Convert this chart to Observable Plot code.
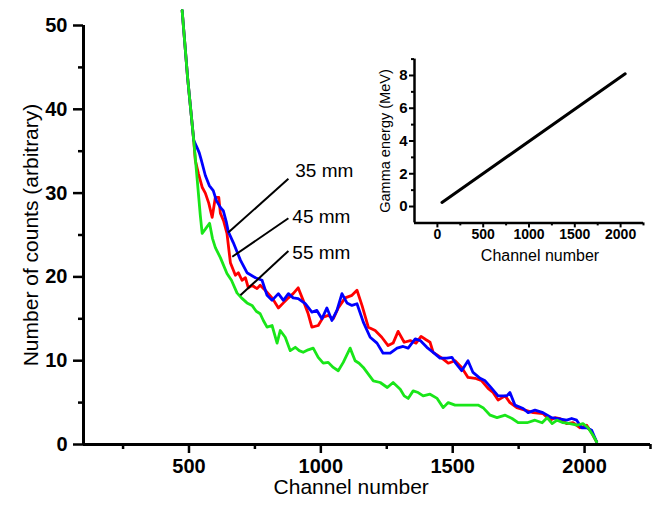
<!DOCTYPE html>
<html><head><meta charset="utf-8">
<script src="https://cdn.jsdelivr.net/npm/d3@7"></script>
<script src="https://cdn.jsdelivr.net/npm/@observablehq/plot@0.6"></script>
<style>
html,body{margin:0;padding:0;background:#fff;}
#wrap{position:relative;width:657px;height:506px;overflow:hidden;}
#inset{position:absolute;left:370px;top:40px;}
svg{display:block;}
</style></head><body><div id="wrap"><div id="main"></div><div id="inset"></div></div>
<script>
// ---- Data ----
// 35 mm (blue)
const ch35 = [474,495,518,531,539,547,562,577,592,604,619,630,642,649,668,695,720,752,777,796,815,839,858,877,895,914,941,966,985,1004,1023,1042,1061,1080,1099,1118,1137,1161,1187,1213,1236,1263,1289,1312,1331,1358,1377,1402,1426,1452,1478,1497,1509,1534,1558,1577,1604,1623,1648,1672,1705,1717,1736,1767,1786,1812,1842,1875,1899,1932,1951,1970,1989,2008,2027,2046];
const counts35 = [51.8,43.7,36.3,35.4,34.8,33.9,32.1,30.9,30.3,29.1,28.3,27.9,26.5,25.4,24.1,22.0,20.5,19.9,19.6,17.8,17.2,18.0,17.2,18.0,17.5,17.4,16.8,15.8,16.0,15.0,16.3,14.8,16.0,18.0,16.9,16.6,16.8,14.6,12.8,12.1,10.9,10.9,11.5,11.7,11.5,12.6,12.4,11.6,11.0,10.3,10.3,10.4,9.8,8.8,10.0,8.6,7.9,7.6,6.7,5.8,5.8,6.2,4.7,4.3,3.8,4.1,3.8,3.2,3.1,2.9,3.1,2.9,2.0,2.0,1.7,0.3];
// 45 mm (red)
const ch45 = [474,495,518,524,536,550,562,575,588,600,613,619,631,644,657,676,687,701,714,725,739,758,770,789,815,839,858,877,895,914,933,952,966,990,1009,1028,1047,1066,1092,1118,1137,1156,1180,1206,1231,1255,1274,1293,1316,1339,1361,1380,1399,1414,1426,1459,1483,1509,1534,1558,1585,1610,1634,1653,1672,1699,1717,1743,1774,1805,1842,1869,1888,1907,1932,1956,1983,2008,2027,2046];
const counts45 = [51.8,43.7,36.3,33.9,32.3,30.7,30.0,28.8,27.1,29.5,29.5,27.6,26.7,25.2,21.7,20.2,20.5,19.6,19.9,18.7,19.0,18.6,19.0,18.4,17.5,16.3,16.9,17.5,18.0,18.7,17.2,15.6,14.0,14.2,15.2,15.4,15.0,16.3,17.5,17.8,18.4,16.6,14.0,13.6,12.8,11.8,12.1,13.5,12.2,12.4,12.1,12.9,12.5,12.2,11.0,10.3,9.7,10.0,9.2,8.0,7.9,7.6,6.7,6.2,5.3,5.8,5.0,4.4,4.1,3.8,3.7,2.9,3.2,3.1,2.5,2.6,2.0,2.3,1.4,0.3];
// 55 mm (green)
const ch55 = [474,495,518,532,543,550,562,578,589,600,619,644,661,682,699,720,739,755,770,782,796,815,834,846,865,884,903,918,933,952,971,990,1009,1028,1047,1066,1085,1111,1130,1145,1161,1180,1199,1225,1252,1274,1301,1316,1331,1350,1369,1388,1414,1441,1464,1483,1509,1536,1566,1596,1615,1642,1668,1699,1725,1748,1782,1812,1839,1858,1877,1896,1918,1945,1971,1994,2013,2032,2046];
const counts55 = [51.8,43.7,36.3,31.3,27.3,25.2,25.7,26.4,24.6,23.5,22.3,20.4,19.6,18.1,17.5,16.9,16.6,15.9,15.6,14.8,14.0,14.2,12.1,13.6,12.8,11.2,11.6,11.2,11.0,11.3,11.5,10.4,9.7,9.8,9.2,8.8,9.8,11.5,10.0,9.7,9.2,8.4,7.6,7.4,6.8,7.4,6.6,5.8,5.5,6.4,6.2,5.8,6.0,5.5,4.4,5.0,4.7,4.7,4.7,4.7,4.4,3.5,3.2,3.5,3.1,2.6,2.6,2.9,2.6,3.2,2.5,2.9,2.6,2.5,2.3,2.5,2.0,1.1,0.3];

// Leader labels
const leaderLabels = ["35 mm", "45 mm", "55 mm"];
const leaderFromCh = [649, 664, 695];
const leaderFromN = [25.3, 22.4, 17.8];
const leaderToCh = [877, 877, 877];
const leaderToN = [31.7, 27.0, 23.1];
const labelCh = [903, 892, 892];
const labelN = [32.6, 27.1, 22.9];

// Axis ticks
const xMajor = [500, 1000, 1500, 2000];
const xMinor = [250, 750, 1250, 1750, 2250];
const yMajor = [0, 10, 20, 30, 40, 50];
const yMinor = [5, 15, 25, 35, 45];

// Inset: calibration line
const insetChannel = [50, 2050];
const insetEnergy = [0.25, 8.1];
const insetXMajor = [0, 500, 1000, 1500, 2000];
const insetXMinor = [250, 750, 1250, 1750, 2250];
const insetYMajor = [0, 2, 4, 6, 8];
const insetYMinor = [1, 3, 5, 7, 9];

// ---- Build ----
const FONT = "'Liberation Sans', Arial, Helvetica, sans-serif";
const toRows = (xs, ys) => xs.map((x, i) => ({ch: x, n: ys[i]}));
const d35 = toRows(ch35, counts35);
const d45 = toRows(ch45, counts45);
const d55 = toRows(ch55, counts55);
const leaders = leaderLabels.map((label, i) => ({
  label, x1: leaderFromCh[i], y1: leaderFromN[i], x2: leaderToCh[i], y2: leaderToN[i],
  tx: labelCh[i], ty: labelN[i]
}));

const main = Plot.plot({
  width: 657, height: 506,
  marginLeft: 83, marginRight: 7, marginTop: 25, marginBottom: 62,
  x: {domain: [100, 2250]},
  y: {domain: [0, 50]},
  style: {fontFamily: FONT, background: "white", color: "black"},
  marks: [
    Plot.line(d45, {x: "ch", y: "n", stroke: "#ff0000", strokeWidth: 2.8}),
    Plot.line(d35, {x: "ch", y: "n", stroke: "#0000ff", strokeWidth: 2.8}),
    Plot.line(d55, {x: "ch", y: "n", stroke: "#19e619", strokeWidth: 2.8}),
    Plot.link(leaders, {x1: "x1", y1: "y1", x2: "x2", y2: "y2", stroke: "black", strokeWidth: 2}),
    Plot.text(leaders, {x: "tx", y: "ty", text: "label", textAnchor: "start", fontSize: 19, fill: "black"}),
    Plot.ruleY([0], {strokeWidth: 3, stroke: "black"}),
    Plot.ruleX([100], {strokeWidth: 3, stroke: "black"}),
    Plot.axisX({ticks: xMajor, tickSize: 9, tickPadding: 5, tickFormat: "d", fontSize: 20, fontWeight: "bold", strokeWidth: 2.5, label: null}),
    Plot.axisX({ticks: xMinor, tickSize: 5, tickFormat: () => "", strokeWidth: 2.5, label: null}),
    Plot.axisY({ticks: yMajor, tickSize: 10, tickPadding: 6, tickFormat: "d", fontSize: 20, fontWeight: "bold", strokeWidth: 2.5, label: null}),
    Plot.axisY({ticks: yMinor, tickSize: 5, tickFormat: () => "", strokeWidth: 2.5, label: null}),
    Plot.text(["Channel number"], {x: 1115, frameAnchor: "bottom", dy: 49, fontSize: 21, fill: "black"}),
    Plot.text(["Number of counts (arbitrary)"], {frameAnchor: "left", textAnchor: "middle", dx: -52, rotate: -90, fontSize: 21, fill: "black"})
  ]
});
document.getElementById("main").appendChild(main);

const inset = Plot.plot({
  width: 280, height: 240,
  marginLeft: 44, marginRight: 7, marginTop: 18.6, marginBottom: 57.6,
  x: {domain: [-250, 2250]},
  y: {domain: [-1, 9]},
  style: {fontFamily: FONT, background: "transparent", color: "black"},
  marks: [
    Plot.line(toRows(insetChannel, insetEnergy), {x: "ch", y: "n", stroke: "black", strokeWidth: 3}),
    Plot.ruleY([-1], {strokeWidth: 2.5, stroke: "black"}),
    Plot.ruleX([-250], {strokeWidth: 2.5, stroke: "black"}),
    Plot.axisX({ticks: insetXMajor, tickSize: 5, tickPadding: 1, tickFormat: "d", fontSize: 14, fontWeight: "bold", strokeWidth: 2, label: null}),
    Plot.axisX({ticks: insetXMinor, tickSize: 3, tickFormat: () => "", strokeWidth: 2, label: null}),
    Plot.axisY({ticks: insetYMajor, tickSize: 5, tickPadding: 2, tickFormat: "d", fontSize: 15, fontWeight: "bold", strokeWidth: 2, label: null}),
    Plot.axisY({ticks: insetYMinor, tickSize: 3, tickFormat: () => "", strokeWidth: 2, label: null}),
    Plot.text(["Channel number"], {x: 1120, frameAnchor: "bottom", dy: 37.6, fontSize: 16, fill: "black"}),
    Plot.text(["Gamma energy (MeV)"], {frameAnchor: "left", textAnchor: "middle", dx: -29, rotate: -90, fontSize: 14.5, fill: "black"})
  ]
});
document.getElementById("inset").appendChild(inset);
</script>
</body></html>
